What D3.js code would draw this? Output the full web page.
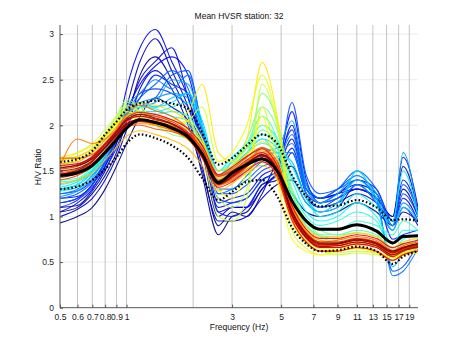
<!DOCTYPE html>
<html><head><meta charset="utf-8">
<script src="https://cdn.jsdelivr.net/npm/d3@7/dist/d3.min.js"></script>
<style>body{margin:0;background:#fff}text{font-family:"Liberation Sans",Arial,sans-serif}</style>
</head><body><svg id="c" width="462" height="346"></svg>
<script>
const freqs = [0.5,0.6,0.7,0.8,0.9,1.0,1.15,1.35,1.6,1.9,2.2,2.6,3.0,3.5,4.1,4.8,5.6,6.5,7.5,9,11,13.5,16,17.8,20.8];
const meanHV  = [1.45,1.48,1.56,1.70,1.84,1.97,2.06,2.03,1.97,1.87,1.68,1.37,1.48,1.57,1.63,1.50,1.17,0.95,0.86,0.86,0.91,0.84,0.71,0.78,0.79];
const upperHV = [1.60,1.63,1.72,1.90,2.04,2.17,2.24,2.27,2.24,2.18,1.92,1.57,1.64,1.78,1.90,1.80,1.45,1.22,1.11,1.12,1.18,1.10,0.96,0.97,0.95];
const lowerHV = [1.30,1.33,1.40,1.52,1.65,1.80,1.90,1.86,1.78,1.64,1.42,1.18,1.27,1.38,1.40,1.22,0.88,0.70,0.62,0.63,0.67,0.62,0.48,0.56,0.62];
const windowsHV = [
[0.93,1.00,1.10,1.30,1.55,1.80,2.10,2.30,2.20,2.05,1.45,0.80,1.00,1.05,1.30,1.45,1.25,1.05,1.00,1.05,1.15,1.05,0.90,1.05,0.95],
[1.05,1.10,1.25,1.45,1.70,2.05,2.55,2.75,2.50,2.10,1.55,0.90,1.05,1.00,1.25,1.55,1.55,1.20,1.10,1.15,1.25,1.15,0.95,1.30,1.00],
[1.10,1.12,1.28,1.50,1.80,2.20,2.70,2.95,2.60,2.20,1.70,1.00,1.10,1.10,1.35,1.40,1.70,1.25,1.15,1.20,1.30,1.20,1.00,1.55,1.05],
[1.00,1.08,1.20,1.40,1.65,1.95,2.40,2.60,2.40,2.00,1.50,0.95,0.95,1.00,1.20,1.35,1.40,1.15,1.05,1.10,1.35,1.25,0.90,1.20,0.95],
[1.15,1.20,1.35,1.55,1.80,2.10,2.50,2.70,2.85,2.30,1.75,1.10,1.15,1.20,1.40,1.50,1.85,1.30,1.20,1.25,1.30,1.20,1.00,1.65,1.10],
[1.05,1.15,1.30,1.55,1.90,2.40,2.85,3.05,2.70,2.30,1.80,1.05,1.10,1.10,1.30,1.50,2.00,1.35,1.20,1.25,1.40,1.30,0.95,1.40,1.05],
[1.20,1.22,1.35,1.60,1.85,2.15,2.45,2.65,2.75,2.55,1.90,1.15,1.20,1.25,1.45,1.55,2.15,1.40,1.15,1.25,1.35,1.15,0.85,1.10,0.90],
[1.10,1.18,1.32,1.52,1.75,2.05,2.30,2.55,2.45,2.35,1.80,1.05,1.00,1.10,1.35,1.45,1.75,1.25,1.10,1.20,1.30,1.20,0.75,0.80,0.85],
[1.25,1.28,1.40,1.60,1.85,2.10,2.35,2.40,2.35,2.20,1.85,1.25,1.25,1.35,1.50,1.60,1.95,1.30,1.20,1.30,1.45,1.25,0.90,1.25,1.00],
[1.15,1.20,1.35,1.58,1.82,2.00,2.20,2.30,2.55,2.60,1.95,1.20,1.15,1.20,1.40,1.50,2.25,1.45,1.25,1.30,1.40,1.20,0.40,0.45,0.70],
[1.20,1.25,1.38,1.60,1.85,2.10,2.30,2.45,2.60,2.40,1.85,1.25,1.30,1.40,1.55,1.60,1.90,1.35,1.20,1.30,1.50,1.30,0.95,1.35,1.05],
[1.25,1.30,1.45,1.62,1.90,2.20,2.35,2.50,2.40,2.55,2.00,1.30,1.30,1.45,1.60,1.65,1.80,1.30,1.15,1.20,1.40,1.20,0.35,0.40,0.65],
[1.30,1.35,1.48,1.68,1.92,2.15,2.25,2.30,2.35,2.30,1.95,1.35,1.40,1.50,1.65,1.70,1.70,1.25,1.10,1.15,1.35,1.15,0.90,1.15,0.95],
[1.22,1.28,1.42,1.65,1.88,2.05,2.20,2.25,2.50,2.45,2.00,1.40,1.40,1.55,1.70,1.75,2.05,1.35,1.15,1.25,1.45,1.25,0.90,1.70,1.00],
[1.28,1.32,1.45,1.66,1.90,2.10,2.20,2.20,2.30,2.35,1.95,1.45,1.50,1.60,1.75,1.70,1.60,1.20,1.05,1.15,1.40,1.15,0.45,0.60,0.75],
[1.30,1.35,1.50,1.70,1.95,2.15,2.25,2.20,2.25,2.35,2.05,1.50,1.55,1.70,1.85,1.75,1.45,1.15,1.05,1.10,1.50,1.20,0.85,1.10,0.95],
[1.32,1.38,1.50,1.72,1.95,2.10,2.15,2.15,2.20,2.25,2.00,1.45,1.60,1.75,1.90,1.80,1.55,1.20,1.00,1.05,1.25,1.10,0.95,1.50,1.00],
[1.35,1.40,1.52,1.72,1.92,2.08,2.15,2.12,2.15,2.10,1.85,1.50,1.65,1.80,2.00,1.85,1.40,1.05,0.95,1.00,1.15,1.00,0.70,0.85,0.85],
[1.28,1.35,1.48,1.68,1.90,2.10,2.20,2.18,2.10,2.05,1.80,1.45,1.55,1.70,1.80,1.70,1.30,1.00,0.90,0.95,1.05,0.95,0.60,0.75,0.80],
[1.38,1.40,1.52,1.70,1.90,2.05,2.12,2.10,2.05,2.00,1.80,1.50,1.60,1.75,1.85,1.65,1.25,0.95,0.85,0.85,0.95,0.90,0.80,0.95,0.85],
[1.40,1.42,1.55,1.75,1.95,2.10,2.15,2.05,2.00,1.95,1.75,1.45,1.60,1.80,2.10,1.85,1.20,0.90,0.80,0.80,0.85,0.80,0.65,0.70,0.70],
[1.42,1.50,1.65,1.85,2.05,2.20,2.15,2.05,1.95,1.90,1.70,1.35,1.50,1.70,1.95,1.75,1.15,0.90,0.78,0.72,0.75,0.72,0.55,0.60,0.65],
[1.50,1.55,1.65,1.80,2.00,2.15,2.10,2.00,1.90,1.85,1.70,1.40,1.55,1.85,2.20,1.95,1.25,0.95,0.85,0.80,0.82,0.78,0.62,0.70,0.72],
[1.45,1.50,1.62,1.82,2.05,2.25,2.20,2.05,1.95,1.85,1.65,1.35,1.45,1.65,2.35,2.05,1.30,0.95,0.80,0.75,0.75,0.72,0.60,0.65,0.68],
[1.55,1.65,1.75,1.90,2.10,2.28,2.20,2.05,1.98,1.90,1.75,1.45,1.55,1.75,2.00,1.80,1.15,0.85,0.72,0.70,0.72,0.68,0.58,0.62,0.66],
[1.55,1.62,1.72,1.88,2.05,2.20,2.15,2.05,2.00,1.95,1.80,1.20,1.10,1.30,2.45,2.00,0.95,0.70,0.62,0.60,0.62,0.60,0.55,0.60,0.62],
[1.60,1.70,1.80,1.95,2.10,2.22,2.15,2.00,1.95,1.90,1.70,1.00,0.95,1.20,2.20,1.60,0.85,0.65,0.58,0.58,0.60,0.58,0.55,0.60,0.65],
[1.62,1.65,1.75,1.90,2.05,2.15,2.10,2.00,1.98,2.05,2.20,1.60,1.70,2.00,2.55,2.05,1.05,0.75,0.65,0.65,0.68,0.62,0.52,0.58,0.60],
[1.58,1.62,1.70,1.85,2.00,2.10,2.05,2.00,2.00,2.05,1.85,1.30,1.20,1.50,2.10,1.40,0.75,0.62,0.58,0.62,0.66,0.62,0.55,0.58,0.62],
[1.65,1.70,1.78,1.90,2.02,2.10,2.08,2.02,2.05,2.15,2.45,1.70,1.60,1.85,2.69,2.10,1.00,0.72,0.62,0.62,0.65,0.60,0.52,0.60,0.62],
[1.62,1.66,1.74,1.88,2.04,2.18,2.24,2.22,2.16,2.04,1.82,1.50,1.55,1.68,1.82,1.64,1.16,0.88,0.78,0.78,0.82,0.78,0.66,0.72,0.76],
[1.36,1.40,1.48,1.62,1.76,1.88,1.94,1.90,1.84,1.74,1.56,1.28,1.36,1.48,1.56,1.40,0.96,0.72,0.62,0.62,0.66,0.62,0.52,0.58,0.62],
[1.58,1.60,1.70,1.84,1.98,2.10,2.15,2.10,2.06,1.96,1.76,1.42,1.50,1.62,1.72,1.58,1.12,0.84,0.74,0.72,0.76,0.72,0.62,0.68,0.72],
[1.45,1.48,1.56,1.70,1.84,1.96,2.02,2.00,1.94,1.84,1.66,1.34,1.40,1.52,1.60,1.46,1.00,0.76,0.66,0.66,0.70,0.66,0.57,0.62,0.66],
[1.55,1.85,1.80,1.85,1.95,2.05,2.05,2.00,1.95,1.85,1.65,1.35,1.40,1.55,1.75,1.55,1.00,0.78,0.68,0.68,0.72,0.68,0.60,0.65,0.68],
[1.48,1.52,1.62,1.80,1.96,2.12,2.22,2.16,2.10,1.96,1.72,1.40,1.48,1.60,1.70,1.55,1.10,0.82,0.72,0.74,0.78,0.74,0.63,0.68,0.72],
[1.64,1.64,1.68,1.80,1.92,2.00,2.00,1.96,1.93,1.86,1.70,1.45,1.52,1.65,1.76,1.60,1.08,0.80,0.70,0.68,0.72,0.68,0.58,0.64,0.68],
[1.40,1.45,1.55,1.72,1.88,2.04,2.12,2.10,2.04,1.92,1.70,1.36,1.42,1.55,1.64,1.48,1.02,0.78,0.68,0.70,0.74,0.70,0.60,0.64,0.68],
[1.52,1.55,1.64,1.78,1.93,2.06,2.10,2.06,2.02,1.92,1.74,1.44,1.50,1.62,1.70,1.52,1.06,0.82,0.72,0.72,0.76,0.72,0.62,0.66,0.70],
[1.47,1.50,1.58,1.72,1.86,1.98,2.04,2.02,1.97,1.86,1.64,1.32,1.38,1.50,1.60,1.44,0.96,0.72,0.62,0.62,0.66,0.62,0.52,0.58,0.62],
[1.56,1.58,1.66,1.80,1.94,2.08,2.14,2.12,2.06,1.96,1.78,1.46,1.54,1.66,1.74,1.56,1.12,0.86,0.76,0.76,0.80,0.76,0.66,0.70,0.74],
[1.43,1.47,1.56,1.70,1.86,2.00,2.06,2.04,1.98,1.87,1.67,1.35,1.43,1.55,1.64,1.48,1.00,0.76,0.66,0.66,0.70,0.66,0.56,0.62,0.66],
[1.53,1.57,1.65,1.79,1.93,2.05,2.10,2.07,2.01,1.90,1.70,1.38,1.46,1.58,1.68,1.52,1.04,0.79,0.69,0.70,0.74,0.70,0.60,0.66,0.70],
[1.50,1.53,1.61,1.75,1.89,2.01,2.07,2.04,1.99,1.89,1.69,1.37,1.45,1.56,1.66,1.50,1.05,0.80,0.70,0.70,0.74,0.70,0.61,0.65,0.69],
[1.46,1.51,1.60,1.76,1.92,2.06,2.12,2.08,2.02,1.90,1.68,1.36,1.44,1.57,1.68,1.50,1.02,0.77,0.67,0.68,0.72,0.68,0.58,0.63,0.67],
[1.54,1.56,1.63,1.76,1.90,2.02,2.06,2.03,1.98,1.88,1.70,1.39,1.47,1.59,1.67,1.51,1.06,0.81,0.71,0.71,0.75,0.71,0.62,0.66,0.70]
];
const xTicks = [0.5,0.6,0.7,0.8,0.9,1,3,5,7,9,11,13,15,17,19];
const xMinorGrid = [2];
const yTicks = [0,0.5,1,1.5,2,2.5,3];
const titleText = "Mean HVSR station: 32";
const xLabel = "Frequency (Hz)";
const yLabel = "H/V Ratio";

const svg = d3.select("#c");
const L = 60, R = 418, T = 25, B = 307.7;
const x = d3.scaleLog().domain([0.5, 20.8]).range([L, R]);
const y = d3.scaleLinear().domain([0, 3.1]).range([B, T]);
const jet = d3.scaleLinear().domain([0,0.125,0.375,0.625,0.875,1])
  .range(["#00007f","#0000ff","#00ffff","#ffff00","#ff0000","#7f0000"]);

svg.append("defs").append("clipPath").attr("id","clip")
  .append("rect").attr("x",L).attr("y",T).attr("width",R-L).attr("height",B-T);

const g = svg.append("g");
g.selectAll(".hg").data(yTicks.slice(1)).enter().append("line")
  .attr("x1",L).attr("x2",R).attr("y1",d=>y(d)).attr("y2",d=>y(d))
  .attr("stroke","#ececec").attr("stroke-width",1);
g.selectAll(".vg").data(xTicks.slice(1).concat(xMinorGrid)).enter().append("line")
  .attr("x1",d=>x(d)).attr("x2",d=>x(d)).attr("y1",T).attr("y2",B)
  .attr("stroke","#c4c4c4").attr("stroke-width",1);

const line = d3.line().x((d,i)=>x(freqs[i])).y(d=>y(d)).curve(d3.curveMonotoneX);
const plot = svg.append("g").attr("clip-path","url(#clip)");
const N = windowsHV.length;
plot.selectAll(".w").data(windowsHV).enter().append("path")
  .attr("d",line).attr("fill","none")
  .attr("stroke",(d,i)=>jet(i/(N-1))).attr("stroke-width",1.1).attr("stroke-opacity",0.9);

plot.append("path").datum(meanHV).attr("d",line).attr("fill","none")
  .attr("stroke","#000").attr("stroke-width",3);
[upperHV, lowerHV].forEach(s=>{
  plot.append("path").datum(s).attr("d",line).attr("fill","none")
    .attr("stroke","#000").attr("stroke-width",2.2).attr("stroke-dasharray","1.6,2.2");
});

const ax = svg.append("g").attr("transform",`translate(0,${B})`)
  .call(d3.axisBottom(x).tickValues(xTicks).tickFormat(d=>String(d)).tickSizeInner(-3).tickSizeOuter(0).tickPadding(6));
const ay = svg.append("g").attr("transform",`translate(${L},0)`)
  .call(d3.axisLeft(y).tickValues(yTicks).tickFormat(d=>String(d)).tickSizeInner(-3).tickSizeOuter(0).tickPadding(6));
[ax,ay].forEach(a=>{
  a.select(".domain").attr("stroke","#555");
  a.selectAll(".tick line").attr("stroke","#555");
  a.selectAll("text").attr("font-size",8.5).attr("fill","#222").attr("font-family","Liberation Sans, Arial");
});
ax.select(".domain").attr("d",`M${L},0H${R}`);
ay.select(".domain").attr("d",`M0,${B}V${T}`);

svg.append("text").attr("x",239).attr("y",19).attr("text-anchor","middle")
  .attr("font-size",8.5).attr("fill","#111").text(titleText);
svg.append("text").attr("x",239).attr("y",330).attr("text-anchor","middle")
  .attr("font-size",8.5).attr("fill","#111").text(xLabel);
svg.append("text").attr("transform","translate(41,167) rotate(-90)").attr("text-anchor","middle")
  .attr("font-size",8.5).attr("fill","#111").text(yLabel);
</script></body></html>
